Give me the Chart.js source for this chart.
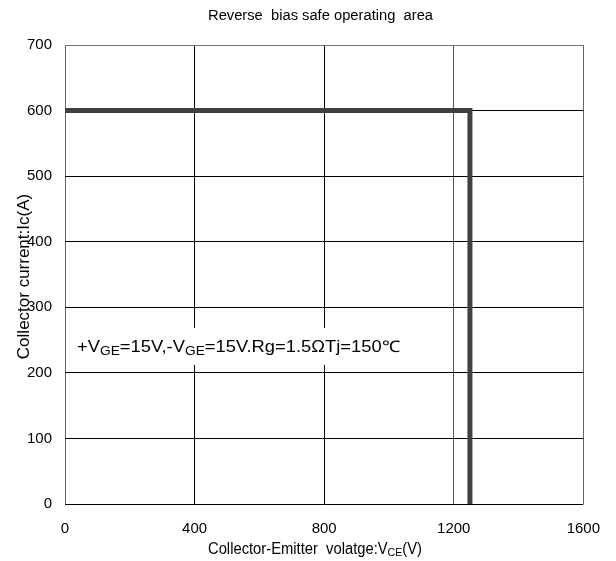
<!DOCTYPE html>
<html>
<head>
<meta charset="utf-8">
<script src="https://cdn.jsdelivr.net/npm/chart.js@4.4.1/dist/chart.umd.min.js"></script>
<style>
  html, body { margin: 0; padding: 0; background: #fff; }
  #wrap { width: 616px; height: 561px; }
</style>
</head>
<body>
<div id="wrap"><canvas id="rbsoa"></canvas></div>
<script>
const vce = [0, 1250, 1250];
const ic = [600, 600, 0];
const xTicks = [0, 400, 800, 1200, 1600];
const yTicks = [0, 100, 200, 300, 400, 500, 600, 700];
const noteAt = { x: 37, y: 232 };
const noteParts = [
    ["+V", false], ["GE", true], ["=15V,-V", false], ["GE", true], ["=15V.Rg=1.5ΩTj=150℃", false]
];
const xTitleParts = [["Collector-Emitter  volatge:V", false], ["CE", true], ["(V)", false]];

const FONT = "'Liberation Sans', Arial, sans-serif";

// draw text runs (normal + subscript) squeezed/stretched to a given width
function drawRuns(c, runs, x, y, width, size, subSize, subDrop) {
    let total = 0;
    runs.forEach(r => {
        c.font = (r[1] ? subSize : size) + "px " + FONT;
        total += c.measureText(r[0]).width;
    });
    c.save();
    c.translate(x, y);
    c.scale(width / total, 1);
    let px = 0;
    runs.forEach(r => {
        c.font = (r[1] ? subSize : size) + "px " + FONT;
        c.fillText(r[0], px, r[1] ? subDrop : 0);
        px += c.measureText(r[0]).width;
    });
    c.restore();
}

const textPlugin = {
    id: "texts",
    afterDraw(chart) {
        const c = chart.ctx;
        const area = chart.chartArea;
        const sx = chart.scales.x, sy = chart.scales.y;
        c.save();
        c.fillStyle = "#000";
        c.textBaseline = "alphabetic";
        c.textAlign = "left";

        drawRuns(c, [["Reverse  bias safe operating  area", false]], 208, 20, 225, 14, 14, 0);
        drawRuns(c, xTitleParts, 208, 554, 214, 16, 11.5, 2);

        // y axis title
        c.save();
        c.translate(29, (area.top + area.bottom) / 2 + 2);
        c.rotate(-Math.PI / 2);
        c.font = "17px " + FONT;
        c.textAlign = "center";
        c.fillText("Collector current:Ic(A)", 0, 0);
        c.restore();

        // note with white box behind it
        const nx = sx.getPixelForValue(noteAt.x);
        const ny = sy.getPixelForValue(noteAt.y);
        c.fillStyle = "#fff";
        c.fillRect(nx - 8, ny - 24, 323 + 16, 37);
        c.fillStyle = "#000";
        drawRuns(c, noteParts, nx, ny, 323, 16, 12, 3);
        c.restore();
    }
};

const ctx = document.getElementById("rbsoa").getContext("2d");

new Chart(ctx, {
    type: "scatter",
    data: {
        datasets: [{
            data: vce.map((v, i) => ({ x: v, y: ic[i] })),
            showLine: true,
            borderColor: "#404040",
            borderWidth: 5,
            borderJoinStyle: "miter",
            pointRadius: 0,
            fill: false
        }]
    },
    options: {
        responsive: true,
        maintainAspectRatio: false,
        animation: false,
        layout: { padding: { left: 0, right: 31, top: 45, bottom: 0 } },
        plugins: {
            legend: { display: false },
            tooltip: { enabled: false }
        },
        scales: {
            x: {
                type: "linear",
                min: 0,
                max: 1600,
                afterBuildTicks: s => { s.ticks = xTicks.map(v => ({ value: v })); },
                afterFit: s => { s.height = 57; },
                border: { display: false },
                grid: {
                    drawTicks: false,
                    color: c => (c.tick.value === 0 || c.tick.value === 1600) ? "#666" : (c.tick.value === 1200 ? "#555" : "#000"),
                    lineWidth: 1
                },
                ticks: {
                    padding: 16,
                    color: "#000",
                    font: { family: FONT, size: 15 },
                    callback: v => String(v)
                }
            },
            y: {
                type: "linear",
                min: 0,
                max: 700,
                afterBuildTicks: s => { s.ticks = yTicks.map(v => ({ value: v })); },
                afterFit: s => { s.width = 65; },
                border: { display: false },
                grid: {
                    drawTicks: false,
                    color: c => (c.tick.value === 700) ? "#777" : "#000",
                    lineWidth: 1
                },
                ticks: {
                    padding: 13,
                    color: "#000",
                    font: { family: FONT, size: 15 },
                    callback: v => String(v)
                }
            }
        }
    },
    plugins: [textPlugin]
});
</script>
</body>
</html>
